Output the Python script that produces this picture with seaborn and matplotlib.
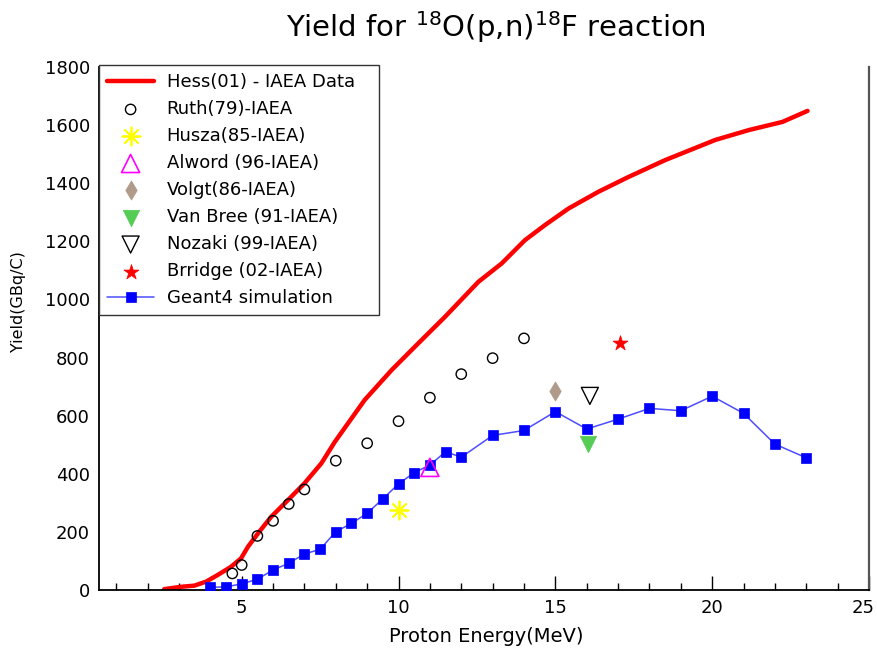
import matplotlib
matplotlib.use("Agg")
import matplotlib.pyplot as plt
from matplotlib.ticker import MultipleLocator, NullLocator
from matplotlib.transforms import ScaledTranslation
import seaborn as sns

# ---- data ----------------------------------------------------------------
# Hess(01) IAEA evaluated thick-target yield
hess_energy = [2.53, 3.07, 3.49, 3.87, 4.24, 4.66, 4.98, 5.20, 5.52, 5.94,
               6.48, 7.00, 7.54, 7.97, 8.92, 9.78, 10.63, 11.48, 12.55, 13.29,
               14.03, 14.67, 15.42, 16.38, 17.34, 18.51, 19.04, 20.10, 21.17,
               22.24, 23.04]
hess_yield = [3, 11, 15, 29, 52, 80, 109, 149, 195, 252,
              310, 367, 436, 510, 654, 757, 849, 940, 1061, 1124,
              1204, 1256, 1313, 1371, 1422, 1480, 1503, 1549, 1583,
              1611, 1649]

ruth_energy = [4.7, 5.0, 5.5, 6.0, 6.5, 7.0, 8.0, 9.0, 10.0, 11.0, 12.0, 13.0, 14.0]
ruth_yield = [57, 86, 186, 238, 296, 346, 445, 505, 581, 662, 743, 798, 866]

husza_energy, husza_yield = [10.0], [275]
alword_energy, alword_yield = [11.0], [422]
volgt_energy, volgt_yield = [15.0], [685]
vanbree_energy, vanbree_yield = [16.05], [503]
nozaki_energy, nozaki_yield = [16.1], [668]
brridge_energy, brridge_yield = [17.05], [849]

geant4_energy = [4.0, 4.5, 5.0, 5.5, 6.0, 6.5, 7.0, 7.5, 8.0, 8.5, 9.0, 9.5,
                 10.0, 10.5, 11.0, 11.5, 12.0, 13.0, 14.0, 15.0, 16.0, 17.0,
                 18.0, 19.0, 20.0, 21.0, 22.0, 23.0]
geant4_yield = [9, 11, 21, 37, 69, 92, 124, 140, 201, 229, 264, 314,
                365, 404, 430, 476, 457, 532, 549, 614, 554, 588,
                625, 617, 667, 608, 502, 455]

x_ticks = [5, 10, 15, 20, 25]
y_ticks = [0, 200, 400, 600, 800, 1000, 1200, 1400, 1600, 1800]

# ---- style ---------------------------------------------------------------
sns.set_theme(style="white")
plt.rcParams["font.family"] = ["DejaVu Sans"]
plt.rcParams["mathtext.fontset"] = "dejavusans"
for key in ("text.color", "axes.labelcolor", "xtick.color", "ytick.color"):
    plt.rcParams[key] = "black"

W, H = 877, 653
fig = plt.figure(figsize=(W / 100, H / 100), dpi=100)
fig.patch.set_facecolor("white")
ax = fig.add_axes([99 / W, (H - 590) / H, 770 / W, 523 / H])
ax.set_facecolor("white")

# ---- series ----------------------------------------------------------------
sns.lineplot(x=hess_energy, y=hess_yield, color="#ff0000", linewidth=3.2,
             sort=False, estimator=None, ax=ax, label="Hess(01) - IAEA Data",
             zorder=2)

sns.lineplot(x=geant4_energy, y=geant4_yield, color="#4d4dff", linewidth=1.1,
             marker="s", markersize=7.5, markerfacecolor="#0000ff",
             markeredgecolor="#0000ff", markeredgewidth=0.5,
             sort=False, estimator=None, ax=ax, label="Geant4 simulation",
             zorder=3)


def points(xs, ys, label, marker, size, face, edge, lw=1.0):
    sns.scatterplot(x=xs, y=ys, marker=marker, s=size, color=edge, ax=ax,
                    label=label, zorder=5)
    coll = ax.collections[-1]
    coll.set_facecolor(face)
    coll.set_edgecolor(edge)
    coll.set_linewidth(lw)
    return coll


points(ruth_energy, ruth_yield, "Ruth(79)-IAEA", "o", 55, "none", "black", 1.0)
points(husza_energy, husza_yield, "Husza(85-IAEA)", (8, 2, 0), 170, "#ffff00", "#ffff00", 1.3)
points(alword_energy, alword_yield, "Alword (96-IAEA)", "^", 170, "none", "#ff00ff", 1.2)
points(volgt_energy, volgt_yield, "Volgt(86-IAEA)", "d", 95, "#b09a8a", "#b09a8a", 0.5)
points(vanbree_energy, vanbree_yield, "Van Bree (91-IAEA)", "v", 140, "#55cc55", "#55cc55", 0.5)
points(nozaki_energy, nozaki_yield, "Nozaki (99-IAEA)", "v", 150, "none", "black", 1.0)
points(brridge_energy, brridge_yield, "Brridge (02-IAEA)", "*", 130, "#ff0000", "#ff0000", 0.5)

# ---- axes ------------------------------------------------------------------
ax.set_xlim(0.45, 25.0)
ax.set_ylim(0, 1800)
ax.set_xticks(x_ticks)
ax.xaxis.set_minor_locator(MultipleLocator(1))
ax.set_yticks(y_ticks)
ax.yaxis.set_minor_locator(NullLocator())
ax.tick_params(axis="x", which="major", direction="in", length=10, width=1.0,
               color="black", labelsize=13, pad=6.5, bottom=True)
ax.tick_params(axis="x", which="minor", direction="in", length=5, width=1.0,
               color="black", bottom=True)
ax.tick_params(axis="y", which="major", length=0, labelsize=13, pad=6.5, left=True)

# keep the last x label inside the canvas
last = ax.get_xticklabels()[-1]
last.set_transform(last.get_transform() + ScaledTranslation(-6 / 100, 0, fig.dpi_scale_trans))

for side in ("left", "bottom"):
    ax.spines[side].set_color("black")
    ax.spines[side].set_linewidth(1.3)
ax.spines["right"].set_color("#555555")
ax.spines["right"].set_linewidth(1.6)
ax.spines["top"].set_visible(False)

ax.set_xlabel("Proton Energy(MeV)", fontsize=14)
ax.xaxis.set_label_coords((486 - 99) / 770, -(637 - 590) / 523)
ax.xaxis.label.set_va("center")
ax.set_ylabel("Yield(GBq/C)", fontsize=11.5)
ax.yaxis.set_label_coords((18.5 - 99) / 770, (590 - 302) / 523)
ax.yaxis.label.set_va("center")

fig.text(496 / W, 1 - 27 / H, r"Yield for $^{18}$O(p,n)$^{18}$F reaction",
         ha="center", va="center", fontsize=21, color="black")

# ---- legend ----------------------------------------------------------------
handles, labels = ax.get_legend_handles_labels()
order = ["Hess(01) - IAEA Data", "Ruth(79)-IAEA", "Husza(85-IAEA)",
         "Alword (96-IAEA)", "Volgt(86-IAEA)", "Van Bree (91-IAEA)",
         "Nozaki (99-IAEA)", "Brridge (02-IAEA)", "Geant4 simulation"]
lookup = dict(zip(labels, handles))
leg = ax.legend([lookup[k] for k in order], order,
                loc="upper left", mode="expand",
                bbox_to_anchor=(99 / W, (H - 335) / H, 280 / W, 270 / H),
                bbox_transform=fig.transFigure, borderaxespad=0,
                fontsize=13, frameon=True, fancybox=False, framealpha=1,
                borderpad=0.45, labelspacing=0.5, handlelength=2.6,
                handletextpad=0.7, scatterpoints=1, numpoints=1)
leg.get_frame().set_edgecolor("#333333")
leg.get_frame().set_linewidth(1.0)
for text in leg.get_texts():
    text.set_color("black")
leg.set_zorder(10)

fig.savefig("out.png", dpi=100, facecolor="white")
